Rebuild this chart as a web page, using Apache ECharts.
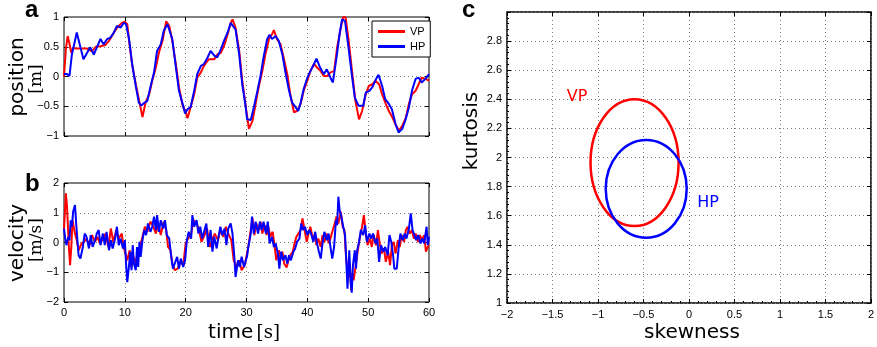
<!DOCTYPE html>
<html>
<head>
<meta charset="utf-8">
<script src="https://cdn.jsdelivr.net/npm/echarts@6/dist/echarts.min.js"></script>
<style>
  html, body { margin: 0; padding: 0; background: #fff; }
  #chart { width: 877px; height: 347px; }
</style>
</head>
<body>
<div id="chart"></div>
<script>
// ---- Panel a: position traces [time s, position m]
const posVP = [[0,0],[0.3,0.45],[0.6,0.68],[0.9,0.55],[1.2,0.40],[1.5,0.48],[2.0,0.47],[2.6,0.47],[3.2,0.47],[3.8,0.47],[4.6,0.42],[5.2,0.50],[6.0,0.51],[6.8,0.53],[7.4,0.6],[8.0,0.7],[8.5,0.79],[9.0,0.85],[9.5,0.9],[10.0,0.92],[10.4,0.88],[10.7,0.6],[11.2,0.2],[11.8,-0.13],[12.3,-0.38],[12.9,-0.68],[13.4,-0.44],[14.0,-0.3],[14.5,-0.07],[15.1,0.15],[15.6,0.4],[16.2,0.6],[16.8,0.93],[17.3,0.85],[17.8,0.6],[18.4,0.2],[18.9,-0.18],[19.5,-0.49],[20.0,-0.6],[20.3,-0.7],[20.8,-0.52],[21.4,-0.3],[21.9,-0.02],[22.5,0.07],[23.0,0.18],[23.8,0.29],[24.7,0.29],[25.2,0.37],[25.8,0.40],[26.3,0.51],[26.9,0.71],[27.4,0.9],[27.7,0.96],[28.2,0.82],[28.8,0.43],[29.3,-0.07],[29.9,-0.52],[30.4,-0.88],[31.0,-0.74],[31.5,-0.46],[32.0,-0.18],[32.6,0.09],[33.1,0.37],[33.7,0.63],[34.2,0.71],[34.5,0.78],[35.0,0.63],[35.6,0.54],[36.1,0.32],[36.7,0.04],[37.2,-0.3],[37.8,-0.6],[38.3,-0.58],[38.9,-0.46],[39.4,-0.24],[40.0,-0.07],[40.5,0.09],[41.1,0.21],[41.6,0.15],[42.2,0.09],[42.7,0.01],[43.3,0.01],[43.8,0.07],[44.4,0.09],[44.9,0.49],[45.5,0.82],[45.9,1.0],[46.3,0.99],[46.8,0.6],[47.4,0.04],[47.9,-0.41],[48.5,-0.72],[49.0,-0.58],[49.6,-0.3],[50.1,-0.16],[50.7,-0.13],[51.2,-0.07],[51.8,-0.13],[52.3,-0.3],[52.9,-0.46],[53.4,-0.58],[54.0,-0.69],[54.6,-0.83],[55.1,-0.91],[55.6,-0.83],[56.2,-0.69],[56.7,-0.46],[57.2,-0.3],[57.8,-0.24],[58.3,-0.13],[58.8,-0.02],[59.4,-0.04],[60.0,-0.07]];

const posHP = [[0,0.04],[0.5,0.04],[0.9,0.01],[1.3,0.37],[1.8,0.6],[2.1,0.74],[2.7,0.49],[3.2,0.29],[3.8,0.4],[4.3,0.49],[4.9,0.37],[5.4,0.49],[6.0,0.63],[6.5,0.54],[7.1,0.63],[7.6,0.65],[8.2,0.74],[8.7,0.85],[9.3,0.82],[9.8,0.9],[10.2,0.88],[10.7,0.63],[11.2,0.21],[11.8,-0.16],[12.3,-0.44],[12.7,-0.49],[13.1,-0.45],[13.7,-0.41],[14.2,-0.18],[14.8,0.07],[15.3,0.43],[15.9,0.54],[16.4,0.77],[17.0,0.88],[17.3,0.88],[17.8,0.63],[18.4,0.15],[18.9,-0.24],[19.5,-0.46],[19.9,-0.62],[20.3,-0.55],[20.8,-0.52],[21.4,-0.24],[21.9,0.04],[22.5,0.18],[23.0,0.21],[23.6,0.32],[24.1,0.43],[24.7,0.35],[25.2,0.32],[25.8,0.46],[26.3,0.6],[26.9,0.74],[27.4,0.9],[27.7,0.93],[28.2,0.79],[28.8,0.37],[29.3,-0.13],[29.8,-0.46],[30.1,-0.72],[30.7,-0.73],[31.2,-0.52],[31.8,-0.24],[32.3,0.01],[32.8,0.32],[33.4,0.63],[33.8,0.7],[34.2,0.63],[34.8,0.68],[35.3,0.6],[35.9,0.37],[36.4,0.07],[37.0,-0.24],[37.5,-0.44],[38.1,-0.52],[38.5,-0.58],[38.9,-0.44],[39.4,-0.21],[40.0,-0.02],[40.5,0.09],[41.1,0.21],[41.5,0.3],[42.1,0.15],[42.7,0.04],[43.2,0.12],[43.8,-0.02],[44.2,-0.1],[44.8,0.32],[45.3,0.71],[45.7,0.96],[46.2,0.93],[46.7,0.54],[47.3,0.04],[47.8,-0.35],[48.4,-0.49],[49.2,-0.49],[49.6,-0.27],[50.2,-0.24],[50.7,-0.18],[51.3,-0.04],[51.7,0.03],[52.3,-0.16],[52.8,-0.38],[53.4,-0.46],[53.9,-0.55],[54.5,-0.8],[55.0,-0.94],[55.6,-0.88],[56.1,-0.74],[56.7,-0.52],[57.2,-0.24],[57.8,-0.04],[58.3,-0.02],[58.8,-0.1],[59.4,-0.04],[60.0,0.04]];

// ---- Panel b: velocity traces [time s, velocity m/s]
const velVP = [[0,0.42],[0.3,1.65],[0.5,1.2],[0.8,-0.15],[1.0,-0.76],[1.2,-0.15],[1.4,0.75],[1.8,0.3],[2.1,0.08],[2.4,-0.26],[2.9,-0.03],[3.3,0.02],[3.7,0.13],[4.2,-0.09],[4.6,0.25],[5.1,0.02],[5.5,0.19],[5.9,-0.03],[6.4,0.13],[6.8,0.3],[7.3,-0.15],[7.7,0.47],[8.1,0.02],[8.6,0.42],[9.0,0.13],[9.5,0.3],[9.8,-0.15],[10.1,-0.09],[10.4,-0.6],[10.8,-0.26],[11.1,-0.82],[11.4,-0.48],[11.8,-0.71],[12.1,-0.31],[12.4,-0.2],[12.9,0.19],[13.3,0.53],[13.7,0.36],[14.2,0.7],[14.6,0.58],[15.1,0.3],[15.5,0.64],[15.9,0.25],[16.4,0.7],[16.8,0.42],[17.1,-0.15],[17.5,-0.26],[17.8,-0.71],[18.2,-0.93],[18.7,-0.88],[19.1,-0.65],[19.6,-0.76],[20.0,-0.03],[20.4,0.13],[20.9,0.3],[21.3,0.75],[21.8,0.64],[22.2,0.42],[22.6,0.02],[23.1,0.25],[23.5,0.47],[24.0,-0.15],[24.4,0.13],[24.8,0.3],[25.3,0.08],[25.7,0.42],[26.2,0.19],[26.6,0.53],[27.0,0.3],[27.5,0.08],[27.9,-0.6],[28.4,-0.82],[28.8,-0.6],[29.2,-0.93],[29.7,-0.76],[30.0,-0.82],[30.3,-0.15],[30.7,0.42],[31.0,0.81],[31.3,0.25],[31.6,0.64],[32.0,0.42],[32.3,0.7],[32.6,0.3],[33.0,0.58],[33.3,0.25],[33.6,0.53],[33.9,0.19],[34.3,0.36],[34.6,-0.09],[34.9,-0.6],[35.3,-0.26],[35.6,-0.54],[35.9,-0.31],[36.2,-0.71],[36.6,-0.84],[36.9,-0.6],[37.2,-0.43],[37.6,-0.31],[37.9,-0.03],[38.2,0.19],[38.5,0.13],[38.9,0.42],[39.2,0.81],[39.5,0.47],[39.9,0.02],[40.2,0.3],[40.5,0.53],[40.9,0.13],[41.2,0.25],[41.5,-0.09],[41.8,0.13],[42.2,-0.15],[42.5,0.25],[42.8,0.02],[43.2,0.3],[43.5,-0.03],[43.8,0.13],[44.1,0.36],[44.5,0.64],[44.8,0.87],[45.1,0.64],[45.5,1.03],[45.8,0.53],[46.1,0.42],[46.4,-0.6],[46.8,-1.16],[47.0,-0.71],[47.2,-1.61],[47.4,-1.04],[47.6,-1.27],[48.0,-0.71],[48.3,-0.26],[48.6,0.13],[49.0,0.53],[49.3,0.92],[49.6,0.3],[49.9,-0.09],[50.3,0.13],[50.6,-0.15],[50.9,0.25],[51.3,-0.09],[51.6,0.42],[51.9,-0.03],[52.2,-0.37],[52.6,-0.2],[52.9,-0.65],[53.3,-0.31],[53.6,-0.76],[53.9,-0.09],[54.2,0.02],[54.5,-0.37],[54.9,0.08],[55.2,-0.15],[55.5,0.25],[55.9,0.02],[56.2,0.42],[56.5,0.53],[56.8,0.3],[57.2,0.42],[57.5,0.13],[57.8,0.3],[58.2,0.02],[58.5,0.25],[58.8,0.08],[59.2,0.25],[59.5,-0.31],[59.8,-0.15],[60,-0.1]];

const velHP = [[0,0.47],[0.2,0.13],[0.4,-0.09],[0.7,0.19],[0.9,0.08],[1.1,0.75],[1.3,0.53],[1.5,1.03],[1.8,1.26],[2.0,0.64],[2.2,0.08],[2.4,-0.43],[2.7,-0.54],[3.1,-0.15],[3.4,0.3],[3.7,0.19],[4.1,-0.2],[4.4,0.25],[4.7,-0.15],[5.1,0.08],[5.4,0.3],[5.7,0.42],[6.0,-0.09],[6.4,0.3],[6.7,-0.09],[7.0,0.36],[7.4,-0.26],[7.7,0.08],[8.0,-0.2],[8.4,0.13],[8.7,0.53],[9.0,-0.09],[9.3,0.13],[9.7,-0.2],[10.0,0.08],[10.2,-0.71],[10.4,-1.33],[10.7,-0.76],[10.9,-0.31],[11.1,-0.93],[11.3,-0.09],[11.5,-0.71],[11.8,-0.93],[12.0,-0.15],[12.2,-0.82],[12.4,0.02],[12.6,-0.48],[12.9,0.08],[13.2,0.42],[13.5,0.25],[13.8,0.64],[14.2,0.36],[14.5,0.53],[14.8,0.87],[15.1,0.42],[15.3,0.92],[15.6,0.36],[15.9,0.75],[16.3,0.47],[16.6,0.75],[16.9,0.25],[17.3,0.13],[17.6,-0.43],[17.9,-0.88],[18.2,-0.82],[18.6,-0.48],[18.9,-0.88],[19.2,-0.54],[19.6,-0.82],[19.9,-0.6],[20.2,0.08],[20.5,0.36],[20.9,0.13],[21.1,0.92],[21.4,0.53],[21.8,0.75],[22.1,0.3],[22.4,0.53],[22.7,0.13],[23.1,0.42],[23.4,0.64],[23.7,-0.15],[24.1,0.42],[24.4,-0.31],[24.7,0.19],[25.1,-0.2],[25.4,0.19],[25.7,0.53],[26.0,0.25],[26.4,0.47],[26.7,-0.09],[27.0,0.47],[27.4,0.64],[27.7,0.3],[28.0,-0.48],[28.2,-1.16],[28.6,-0.6],[28.9,-0.82],[29.2,-0.48],[29.6,-0.82],[29.9,-0.6],[30.1,-0.45],[30.3,-0.15],[30.7,0.3],[30.9,0.87],[31.2,0.3],[31.5,0.7],[31.9,0.3],[32.2,0.7],[32.5,0.42],[32.8,0.7],[33.2,0.3],[33.5,0.7],[33.8,-0.03],[34.2,0.19],[34.5,-0.15],[34.8,-0.03],[35.2,-0.43],[35.4,-0.88],[35.7,-0.31],[36.0,-0.6],[36.4,-0.43],[36.7,-0.71],[37.0,-0.43],[37.3,-0.6],[37.7,-0.31],[38.0,-0.2],[38.3,0.02],[38.7,0.13],[39.0,0.64],[39.3,0.42],[39.6,0.53],[40.0,0.25],[40.3,0.42],[40.6,0.3],[41.0,0.02],[41.3,0.36],[41.6,-0.03],[41.9,-0.31],[42.2,-0.54],[42.5,-0.03],[42.8,0.36],[43.2,0.08],[43.5,0.3],[43.8,-0.15],[44.1,-0.54],[44.4,-0.15],[44.7,0.75],[44.9,0.58],[45.1,1.54],[45.3,1.09],[45.6,0.87],[45.9,0.53],[46.2,0.25],[46.4,-0.6],[46.6,-1.55],[46.9,-0.26],[47.1,-1.27],[47.3,-1.69],[47.5,-0.76],[47.8,-0.26],[48.0,-0.88],[48.2,-0.26],[48.5,0.02],[48.8,0.42],[49.2,0.25],[49.5,0.58],[49.8,0.02],[50.2,0.3],[50.5,0.13],[50.8,0.3],[51.2,-0.03],[51.5,0.13],[51.8,-0.65],[52.1,-0.09],[52.5,-0.31],[52.8,-0.15],[53.2,-0.43],[53.5,0.25],[53.8,0.02],[54.1,-0.43],[54.3,-0.88],[54.7,-0.88],[55.0,-0.2],[55.3,0.3],[55.7,0.08],[56.0,0.3],[56.3,0.13],[56.7,0.47],[57.0,0.98],[57.3,0.42],[57.6,0.36],[57.9,0.08],[58.2,0.25],[58.6,-0.03],[58.9,0.13],[59.2,-0.03],[59.4,0.02],[59.6,0.53],[59.8,-0.09],[60,0.2]];

// ---- Panel c: skewness/kurtosis ellipses
const ellipseNames  = ['VP', 'HP'];
const centerSkew    = [-0.598, -0.47];
const centerKurt    = [1.965, 1.785];
const halfSkew      = [0.484, 0.445];
const halfKurt      = [0.436, 0.336];
const labelSkew     = [-1.23, 0.21];
const labelKurt     = [2.42, 1.69];

// ---- Axis ranges and ticks
const timeTicks = { min: 0, max: 60, interval: 10 };
const posTicks  = { min: -1, max: 1, interval: 0.5 };
const velTicks  = { min: -2, max: 2, interval: 1 };
const skewTicks = { min: -2, max: 2, interval: 0.5 };
const kurtTicks = { min: 1, max: 3, interval: 0.2 };

const RED = '#ff0000', BLUE = '#0000ff';
const TICK_FONT = 'Liberation Sans, Arial, sans-serif';
const TITLE_FONT = 'DejaVu Sans, sans-serif';
const SERIF_FONT = 'DejaVu Serif, serif';
const minus = v => String(+v.toFixed(2)).replace('-', '\u2212');

function axis(gridIndex, ticks, position, opts) {
  opts = opts || {};
  const primary = position === 'bottom' || position === 'left';
  return Object.assign({
    type: 'value', gridIndex, position,
    min: ticks.min, max: ticks.max, interval: ticks.interval,
    axisLine: { show: false, onZero: false },
    axisTick: { show: true, inside: true, length: 4, lineStyle: { color: '#000', width: 1 } },
    axisLabel: {
      show: primary && !opts.hideLabels,
      color: '#000', fontSize: 11, fontFamily: TICK_FONT,
      margin: opts.margin || 6, formatter: minus,
      showMaxLabel: opts.showMaxLabel !== false
    },
    splitLine: {
      show: primary,
      lineStyle: { color: '#7a7a7a', type: [1, 3], width: 1 }
    }
  }, opts.extra || {});
}

const chart = echarts.init(document.getElementById('chart'), null, { renderer: 'canvas' });

const lineSeries = (name, data, color, xi, yi) => ({
  name, type: 'line', data, xAxisIndex: xi, yAxisIndex: yi,
  showSymbol: false, symbol: 'none',
  lineStyle: { color, width: 2 }, itemStyle: { color },
  animation: false, clip: true
});

const gridBox = { show: true, borderColor: '#000', borderWidth: 1, backgroundColor: '#fff' };
const minor = { minorTick: { show: true, splitNumber: 5, length: 2, lineStyle: { color: '#000' } } };

chart.setOption({
  animation: false,
  textStyle: { fontFamily: TICK_FONT },
  grid: [
    Object.assign({ left: 64, top: 17, width: 365, height: 119 }, gridBox),
    Object.assign({ left: 64, top: 183, width: 365, height: 119 }, gridBox),
    Object.assign({ left: 507, top: 12, width: 369, height: 291 }, gridBox, { borderWidth: 1.5 })
  ],
  xAxis: [
    axis(0, timeTicks, 'bottom', { hideLabels: true }),
    axis(0, timeTicks, 'top'),
    axis(1, timeTicks, 'bottom', { margin: 5 }),
    axis(1, timeTicks, 'top'),
    axis(2, skewTicks, 'bottom', { margin: 6, extra: minor }),
    axis(2, skewTicks, 'top')
  ],
  yAxis: [
    axis(0, posTicks, 'left', { margin: 5 }),
    axis(0, posTicks, 'right'),
    axis(1, velTicks, 'left', { margin: 5 }),
    axis(1, velTicks, 'right'),
    axis(2, kurtTicks, 'left', { margin: 5, showMaxLabel: false, extra: minor }),
    axis(2, kurtTicks, 'right')
  ],
  legend: {
    data: [{ name: 'VP', icon: 'rect' }, { name: 'HP', icon: 'rect' }],
    orient: 'vertical', left: 372, top: 21,
    itemWidth: 27, itemHeight: 3, itemGap: 2,
    padding: [4, 5, 4, 6],
    backgroundColor: '#fff', borderColor: '#000', borderWidth: 1, borderRadius: 0,
    textStyle: { fontSize: 11, fontFamily: TICK_FONT, color: '#000', lineHeight: 13 },
    selectedMode: false
  },
  series: [
    lineSeries('VP', posVP, RED, 0, 0),
    lineSeries('HP', posHP, BLUE, 0, 0),
    lineSeries('VP', velVP, RED, 2, 2),
    lineSeries('HP', velHP, BLUE, 2, 2),
    {
      type: 'custom', xAxisIndex: 4, yAxisIndex: 4, animation: false,
      data: ellipseNames.map((n, i) => [centerSkew[i], centerKurt[i], halfSkew[i], halfKurt[i], labelSkew[i], labelKurt[i]]),
      renderItem: function (params, api) {
        const i = params.dataIndex;
        const color = i === 0 ? RED : BLUE;
        const c = api.coord([api.value(0), api.value(1)]);
        const r = api.size([api.value(2), api.value(3)]);
        const lp = api.coord([api.value(4), api.value(5)]);
        return {
          type: 'group',
          children: [
            { type: 'ellipse', shape: { cx: c[0], cy: c[1], rx: r[0], ry: r[1] },
              style: { fill: 'none', stroke: color, lineWidth: 2.5 } },
            { type: 'text', x: lp[0], y: lp[1],
              style: { text: ellipseNames[i], fill: color, fontSize: 16, fontFamily: TITLE_FONT,
                       align: 'center', verticalAlign: 'middle' } }
          ]
        };
      }
    }
  ],
  graphic: [
    { type: 'text', x: 25, y: 10, style: { text: 'a', font: 'bold 24px ' + TICK_FONT, fill: '#000', verticalAlign: 'middle' } },
    { type: 'text', x: 25, y: 184, style: { text: 'b', font: 'bold 24px ' + TICK_FONT, fill: '#000', verticalAlign: 'middle' } },
    { type: 'text', x: 462, y: 10, style: { text: 'c', font: 'bold 24px ' + TICK_FONT, fill: '#000', verticalAlign: 'middle' } },
    { type: 'text', x: 18, y: 77, rotation: Math.PI / 2, style: { text: 'position', font: '20px ' + TITLE_FONT, fill: '#000', align: 'center', verticalAlign: 'middle' } },
    { type: 'text', x: 37, y: 79, rotation: Math.PI / 2, style: { text: '[m]', font: '17px ' + SERIF_FONT, fill: '#000', align: 'center', verticalAlign: 'middle' } },
    { type: 'text', x: 18, y: 243, rotation: Math.PI / 2, style: { text: 'velocity', font: '20px ' + TITLE_FONT, fill: '#000', align: 'center', verticalAlign: 'middle' } },
    { type: 'text', x: 37, y: 240, rotation: Math.PI / 2, style: { text: '[m/s]', font: '17px ' + SERIF_FONT, fill: '#000', align: 'center', verticalAlign: 'middle' } },
    { type: 'text', x: 244, y: 333, style: {
        text: '{t|time} {u|[s]}', align: 'center', verticalAlign: 'middle',
        rich: { t: { fontSize: 20, fontFamily: TITLE_FONT, fill: '#000' }, u: { fontSize: 18, fontFamily: SERIF_FONT, fill: '#000' } } } },
    { type: 'text', x: 472, y: 131, rotation: Math.PI / 2, style: { text: 'kurtosis', font: '20px ' + TITLE_FONT, fill: '#000', align: 'center', verticalAlign: 'middle' } },
    { type: 'text', x: 692, y: 333, style: { text: 'skewness', font: '20px ' + TITLE_FONT, fill: '#000', align: 'center', verticalAlign: 'middle' } }
  ]
});
</script>
</body>
</html>
